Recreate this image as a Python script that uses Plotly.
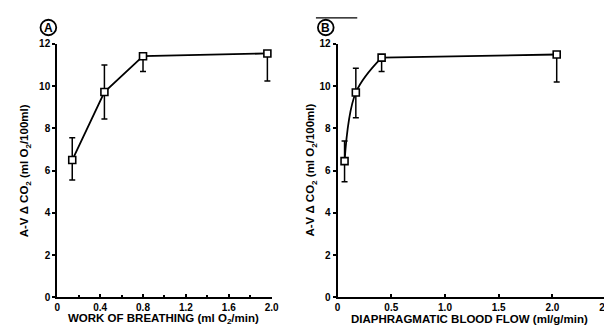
import plotly.graph_objects as go

# ---- data ----
a_x = [0.14, 0.44, 0.80, 1.96]
a_y = [6.5, 9.72, 11.42, 11.55]
a_err_plus = [1.06, 1.28, 0.0, 0.0]
a_err_minus = [0.95, 1.28, 0.72, 1.3]

b_x = [0.065, 0.17, 0.41, 2.04]
b_y = [6.45, 9.7, 11.35, 11.5]
b_err_plus = [0.95, 1.15, 0.0, 0.0]
b_err_minus = [0.98, 1.2, 0.65, 1.3]

a_xticks = [0, 0.4, 0.8, 1.2, 1.6, 2.0]
a_xticklabels = ["0", "0.4", "0.8", "1.2", "1.6", "2.0"]
b_xticks = [0, 0.5, 1.0, 1.5, 2.0, 2.5]
b_xticklabels = ["0", "0.5", "1.0", "1.5", "2.0", "2.5"]
yticks = [0, 2, 4, 6, 8, 10, 12]

W, H = 612, 331
FONT = "Liberation Sans"


def px(x):
    return x / W


def py(y):
    return 1 - y / H


fig = go.Figure()

marker = dict(symbol="square", size=7, color="white", line=dict(color="black", width=1.6))
errstyle = dict(type="data", symmetric=False, color="black", thickness=1.5, width=3)

fig.add_trace(go.Scatter(
    x=a_x, y=a_y, mode="lines+markers", xaxis="x", yaxis="y",
    line=dict(color="black", width=1.8), marker=marker,
    error_y=dict(array=a_err_plus, arrayminus=a_err_minus, **errstyle),
    showlegend=False, cliponaxis=False))

# panel B: smooth curve through the rising part, straight plateau segment
fig.add_trace(go.Scatter(
    x=b_x[:3], y=b_y[:3], mode="lines", xaxis="x2", yaxis="y2",
    line=dict(color="black", width=1.8, shape="spline", smoothing=1.0),
    showlegend=False, cliponaxis=False))
fig.add_trace(go.Scatter(
    x=b_x[2:], y=b_y[2:], mode="lines", xaxis="x2", yaxis="y2",
    line=dict(color="black", width=1.8),
    showlegend=False, cliponaxis=False))
fig.add_trace(go.Scatter(
    x=b_x, y=b_y, mode="markers", xaxis="x2", yaxis="y2", marker=marker,
    error_y=dict(array=b_err_plus, arrayminus=b_err_minus, **errstyle),
    showlegend=False, cliponaxis=False))

tickfont = dict(family=FONT, size=10, color="black", weight="bold")
common_y = dict(range=[0, 12], tickvals=yticks, showgrid=False, zeroline=False,
                showline=True, linecolor="black", linewidth=2, ticks="outside",
                ticklen=3, tickwidth=1.5, tickcolor="black", tickfont=tickfont,
                fixedrange=True)
common_x = dict(showgrid=False, zeroline=False, showline=True, linecolor="black",
                linewidth=2, ticks="inside", ticklen=3, tickwidth=1.5, tickcolor="black",
                tickfont=tickfont, fixedrange=True)

y_dom = [py(294), py(32)]
fig.update_layout(
    width=W, height=H,
    margin=dict(l=0, r=0, t=0, b=0),
    paper_bgcolor="white", plot_bgcolor="white",
    xaxis=dict(domain=[px(47), px(265)], range=[0, 2.0], tickvals=a_xticks,
               ticktext=a_xticklabels, anchor="y",
               minor=dict(dtick=0.2, ticks="inside", ticklen=2, tickcolor="black"),
               **common_x),
    yaxis=dict(domain=y_dom, anchor="x", **common_y),
    xaxis2=dict(domain=[px(332), px(605)], range=[0, 2.5], tickvals=b_xticks,
                ticktext=b_xticklabels, anchor="y2", **common_x),
    yaxis2=dict(domain=y_dom, anchor="x2", **common_y),
)

tfont = dict(family=FONT, size=11.5, color="black", weight="bold")
ytitle = "A-V \u0394 CO<sub>2</sub> (ml O<sub>2</sub>/100ml)"
annots = [
    dict(x=px(155), y=py(317), text="WORK OF BREATHING (ml O<sub>2</sub>/min)"),
    dict(x=px(466), y=py(317), text="DIAPHRAGMATIC BLOOD FLOW (ml/g/min)"),
    dict(x=px(14), y=py(163), text=ytitle, textangle=-90),
    dict(x=px(305), y=py(163), text=ytitle, textangle=-90),
    dict(x=px(38), y=py(15), text="A", font=dict(family=FONT, size=12, color="black", weight="bold")),
    dict(x=px(320), y=py(15), text="B", font=dict(family=FONT, size=12, color="black", weight="bold")),
]
for a in annots:
    a.setdefault("font", tfont)
    fig.add_annotation(xref="paper", yref="paper", showarrow=False,
                       xanchor="center", yanchor="middle", **a)

# circled panel letters and stray line at top of panel B
r = 8
for cx, cy in [(38, 15), (320, 15)]:
    fig.add_shape(type="circle", xref="paper", yref="paper",
                  x0=px(cx - r), x1=px(cx + r), y0=py(cy + r), y1=py(cy - r),
                  line=dict(color="black", width=1.8))
fig.add_shape(type="line", xref="paper", yref="paper",
              x0=px(310), x1=px(352), y0=py(5), y1=py(5),
              line=dict(color="black", width=1.2))

fig.write_html("out.html")
